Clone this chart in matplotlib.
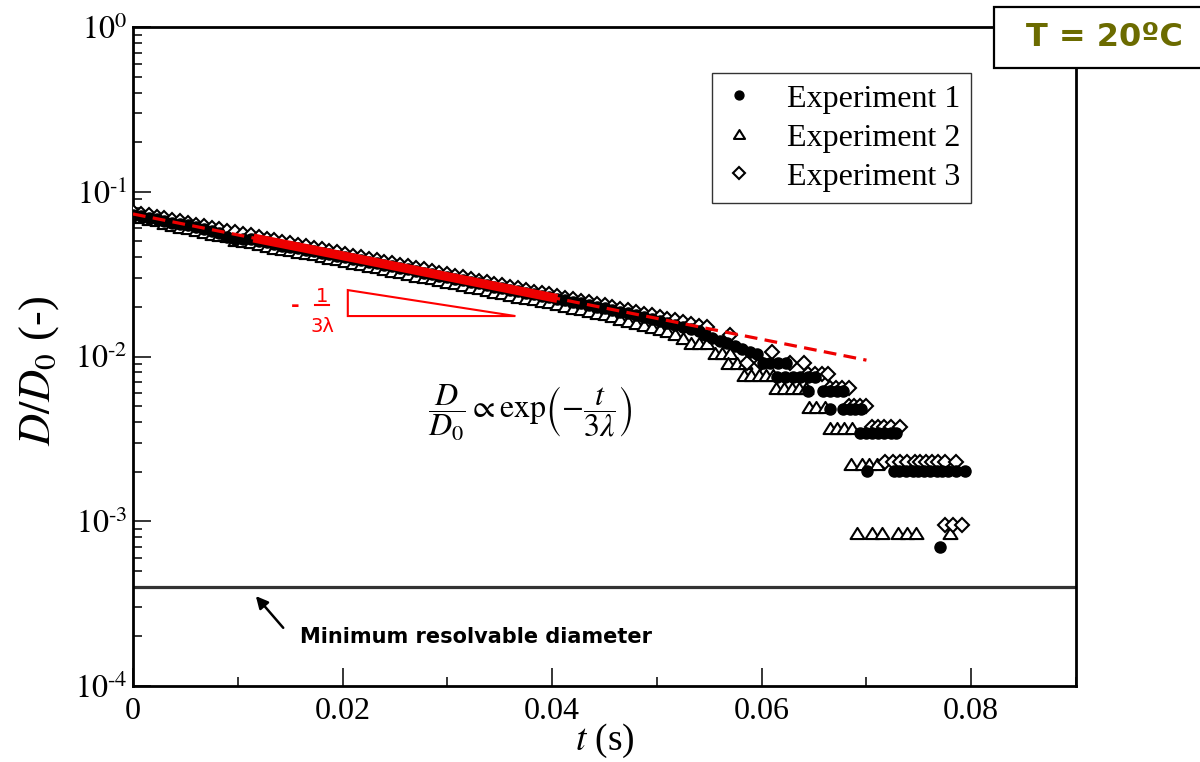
import numpy as np
import matplotlib
matplotlib.use('Agg')
import matplotlib.pyplot as plt
from matplotlib.ticker import FixedLocator, MultipleLocator, NullFormatter, FixedFormatter
from matplotlib.path import Path
from matplotlib.patches import Rectangle, Polygon

plt.rcParams['font.family'] = ['Liberation Serif', 'DejaVu Serif']
plt.rcParams['mathtext.fontset'] = 'stix'

# ---------------- data ----------------
dt = 0.00075  # frame interval (s)

exp1_early = [0.0725, 0.0712, 0.0690, 0.0680, 0.0665,
              0.0650, 0.0635, 0.0625, 0.0610, 0.0595,
              0.0580, 0.0560, 0.0530, 0.0515, 0.0520,
              0.0515, 0.0505, 0.0495, 0.0485, 0.0470,
              0.0465, 0.0455, 0.0445, 0.0435, 0.0425,
              0.0418, 0.0410, 0.0400, 0.0392, 0.0383,
              0.0375, 0.0368, 0.0360, 0.0352, 0.0345,
              0.0338, 0.0330, 0.0323, 0.0316, 0.0310,
              0.0302, 0.0296, 0.0290, 0.0283, 0.0278,
              0.0272, 0.0266, 0.0260, 0.0255, 0.0250,
              0.0244, 0.0238, 0.0234, 0.0229, 0.0224,
              0.0219, 0.0215, 0.0210, 0.0206, 0.0201,
              0.0196, 0.0192, 0.0187, 0.0183, 0.0178,
              0.0173, 0.0168, 0.0164, 0.0159, 0.0155,
              0.0150, 0.0146, 0.0142]
exp1_late_t = [0.0546, 0.0553, 0.0560, 0.0567, 0.0575, 0.0581, 0.0589, 0.0596,
               0.0601, 0.0608, 0.0616, 0.0623,
               0.0615, 0.0622, 0.0630, 0.0637, 0.0644, 0.0651,
               0.0644, 0.0659, 0.0665, 0.0672, 0.0678,
               0.0665, 0.0678, 0.0684, 0.0689, 0.0695,
               0.0694, 0.0700, 0.0705, 0.0711, 0.0717, 0.0723, 0.0728,
               0.0701, 0.0726, 0.0731, 0.0738, 0.0744, 0.0749, 0.0755, 0.0761,
               0.0767, 0.0772, 0.0778, 0.0785, 0.0794,
               0.0770]
exp1_late_y = [0.01351, 0.01295, 0.01242, 0.01208, 0.01158, 0.01110, 0.01064, 0.01035,
               0.00913, 0.00913, 0.00913, 0.00913,
               0.00752, 0.00752, 0.00752, 0.00752, 0.00752, 0.00752,
               0.00618, 0.00618, 0.00618, 0.00618, 0.00618,
               0.00480, 0.00480, 0.00480, 0.00480, 0.00480,
               0.00344, 0.00344, 0.00344, 0.00344, 0.00344, 0.00344, 0.00344,
               0.00202, 0.00202, 0.00202, 0.00202, 0.00202, 0.00202, 0.00202, 0.00202,
               0.00202, 0.00202, 0.00202, 0.00202, 0.00202,
               0.000698]

exp2_early = [0.0710, 0.0700, 0.0680, 0.0670, 0.0650,
              0.0625, 0.0610, 0.0600, 0.0585, 0.0570,
              0.0555, 0.0545, 0.0540, 0.0510, 0.0500,
              0.0495, 0.0480, 0.0470, 0.0455, 0.0450,
              0.0440, 0.0430, 0.0425, 0.0418, 0.0405,
              0.0395, 0.0388, 0.0380, 0.0370, 0.0362,
              0.0355, 0.0348, 0.0340, 0.0332, 0.0325,
              0.0318, 0.0310, 0.0305, 0.0298, 0.0290,
              0.0284, 0.0278, 0.0272, 0.0265, 0.0260,
              0.0253, 0.0248, 0.0243, 0.0237, 0.0231,
              0.0226, 0.0222, 0.0218, 0.0213, 0.0208,
              0.0203, 0.0198, 0.0193, 0.0188, 0.0184,
              0.0180, 0.0175, 0.0170, 0.0165, 0.0160,
              0.0155, 0.0150, 0.0146, 0.0142, 0.0136,
              0.0130]
exp2_late_t = [0.0533, 0.0540, 0.0548,
               0.0555, 0.0562, 0.0570,
               0.0568, 0.0576, 0.0584,
               0.0583, 0.0590, 0.0597, 0.0604, 0.0611,
               0.0614, 0.0621, 0.0629, 0.0636, 0.0642,
               0.0645, 0.0652, 0.0660,
               0.0665, 0.0672, 0.0679, 0.0686,
               0.0685, 0.0696, 0.0702, 0.0710,
               0.0691, 0.0705, 0.0715, 0.0730, 0.0739, 0.0747, 0.0780]
exp2_late_y = [0.01208, 0.01208, 0.01208,
               0.01050, 0.01050, 0.01050,
               0.00913, 0.00913, 0.00913,
               0.00773, 0.00773, 0.00773, 0.00773, 0.00773,
               0.00644, 0.00644, 0.00644, 0.00644, 0.00644,
               0.00493, 0.00493, 0.00493,
               0.00368, 0.00368, 0.00368, 0.00368,
               0.00222, 0.00222, 0.00222, 0.00222,
               0.00085, 0.00085, 0.00085, 0.00085, 0.00085, 0.00085, 0.00085]

exp3_early = [0.0750, 0.0735, 0.0718, 0.0700, 0.0690,
              0.0675, 0.0660, 0.0645, 0.0632, 0.0620,
              0.0605, 0.0592, 0.0580, 0.0568, 0.0555,
              0.0545, 0.0532, 0.0520, 0.0510, 0.0498,
              0.0487, 0.0478, 0.0466, 0.0458, 0.0447,
              0.0437, 0.0428, 0.0420, 0.0410, 0.0402,
              0.0393, 0.0384, 0.0376, 0.0367, 0.0360,
              0.0352, 0.0345, 0.0338, 0.0330, 0.0323,
              0.0316, 0.0309, 0.0302, 0.0295, 0.0289,
              0.0283, 0.0277, 0.0271, 0.0265, 0.0259,
              0.0254, 0.0248, 0.0243, 0.0238, 0.0233,
              0.0228, 0.0223, 0.0218, 0.0213, 0.0208,
              0.0204, 0.0199, 0.0195, 0.0191, 0.0186,
              0.0182, 0.0178, 0.0174, 0.0170, 0.0166,
              0.0162, 0.0158, 0.0154, 0.0150]
exp3_late_t = [0.0570, 0.0586, 0.0599, 0.0610, 0.0627, 0.0640,
               0.0644, 0.0651, 0.0658, 0.0663,
               0.0665, 0.0671, 0.0677, 0.0683,
               0.0683, 0.0688, 0.0694, 0.0700,
               0.0705, 0.0711, 0.0717, 0.0723, 0.0732,
               0.0718, 0.0725, 0.0732, 0.0739, 0.0746, 0.0751, 0.0757, 0.0763,
               0.0768, 0.0775, 0.0785,
               0.0775, 0.0783, 0.0791]
exp3_late_y = [0.01350, 0.00913, 0.00913, 0.01064, 0.00913, 0.00913,
               0.00783, 0.00783, 0.00783, 0.00783,
               0.00644, 0.00644, 0.00644, 0.00644,
               0.00500, 0.00500, 0.00500, 0.00500,
               0.00373, 0.00373, 0.00373, 0.00373, 0.00373,
               0.00229, 0.00229, 0.00229, 0.00229, 0.00229, 0.00229, 0.00229, 0.00229,
               0.00229, 0.00229, 0.00229,
               0.00095, 0.00095, 0.00095]

fit_t = [0.0, 0.070]
fit_y = [0.0733, 0.0095]
fit_seg_t = [0.0115, 0.0405]
fit_seg_y = [0.0524, 0.0225]
min_diameter = 4e-4

slope_tri_t = [0.0205, 0.0205, 0.0365]
slope_tri_y = [0.0253, 0.0176, 0.0176]

x_ticks = [0, 0.02, 0.04, 0.06, 0.08]
x_ticklabels = ['0', '0.02', '0.04', '0.06', '0.08']
y_ticks = [1e-4, 1e-3, 1e-2, 1e-1, 1e0]
y_ticklabels = [r'$10^{\text{-}4}$', r'$10^{\text{-}3}$', r'$10^{\text{-}2}$',
                r'$10^{\text{-}1}$', r'$10^{0}$']

# ---------------- figure ----------------
fig = plt.figure(figsize=(12, 7.62), dpi=100)
ax = fig.add_axes([133/1200, 76/762, 943/1200, 659/762])

t1 = np.concatenate([dt * np.arange(len(exp1_early)), exp1_late_t])
y1 = np.concatenate([exp1_early, exp1_late_y])
t2 = np.concatenate([dt * np.arange(len(exp2_early)), exp2_late_t])
y2 = np.concatenate([exp2_early, exp2_late_y])
t3 = np.concatenate([dt * np.arange(len(exp3_early)), exp3_late_t])
y3 = np.concatenate([exp3_early, exp3_late_y])

tri = Path([(0, 0.8), (-1, -0.8), (1, -0.8), (0, 0.8)],
           [Path.MOVETO, Path.LINETO, Path.LINETO, Path.CLOSEPOLY])

h2, = ax.plot(t2, y2, marker=tri, ms=10, mfc='white', mec='black', mew=1.5, ls='none',
              label='Experiment 2', zorder=3)
h3, = ax.plot(t3, y3, marker='D', ms=7.5, mfc='white', mec='black', mew=1.5, ls='none',
              label='Experiment 3', zorder=4)
h1, = ax.plot(t1, y1, 'o', ms=8, color='black', ls='none', label='Experiment 1', zorder=5)

ax.plot(fit_t, fit_y, color='#ee0000', lw=2.3, dashes=(4, 2.3), zorder=6)
ax.plot(fit_seg_t, fit_seg_y, color='#ee0000', lw=6.5, solid_capstyle='butt', zorder=6)
ax.axhline(min_diameter, color='#333333', lw=2.3, zorder=2)

ax.add_patch(Polygon(list(zip(slope_tri_t, slope_tri_y)), closed=True, fill=False,
                     edgecolor='red', lw=1.5, zorder=6))
ax.text(0.01547, 0.0203, '-', color='red', fontsize=15, family='DejaVu Sans',
        fontweight='bold', ha='center', va='center')
ax.text(0.01804, 0.0232, '1', color='red', fontsize=14, family='DejaVu Sans',
        ha='center', va='center')
ax.plot([0.01737, 0.01871], [0.02054, 0.02054], color='red', lw=1.5)
ax.text(0.01804, 0.0153, '3λ', color='red', fontsize=14, family='DejaVu Sans',
        ha='center', va='center')

ax.text(0.0379, 0.00454, r'$\dfrac{D}{D_0} \propto \mathrm{exp}\left(-\dfrac{t}{3\lambda}\right)$',
        fontsize=23, ha='center', va='center')

ax.annotate('', xy=(0.01155, 3.62e-4), xytext=(0.01451, 2.19e-4),
            arrowprops=dict(arrowstyle='-|>', color='black', lw=1.8, mutation_scale=18))
ax.text(0.01594, 1.98e-4, 'Minimum resolvable diameter', family='DejaVu Sans',
        fontweight='bold', fontsize=15, ha='left', va='center')

ax.set_yscale('log')
ax.set_xlim(0, 0.09)
ax.set_ylim(1e-4, 1)
ax.xaxis.set_major_locator(FixedLocator(x_ticks))
ax.xaxis.set_major_formatter(FixedFormatter(x_ticklabels))
ax.xaxis.set_minor_locator(MultipleLocator(0.01))
ax.yaxis.set_major_locator(FixedLocator(y_ticks))
ax.yaxis.set_major_formatter(FixedFormatter(y_ticklabels))
minor_y = [m * 10.0**e for e in range(-4, 0) for m in range(2, 10)]
ax.yaxis.set_minor_locator(FixedLocator(minor_y))
ax.yaxis.set_minor_formatter(NullFormatter())
ax.tick_params(which='major', direction='in', length=13, width=1.1, labelsize=23,
               top=False, right=False)
ax.tick_params(axis='x', which='major', pad=8)
ax.tick_params(axis='y', which='major', pad=4)
ax.tick_params(which='minor', direction='in', length=6.5, width=1.1, top=False, right=False)
for s in ax.spines.values():
    s.set_linewidth(2)

ax.set_xlabel(r'$t$ (s)', fontsize=27, labelpad=-3)
ax.set_ylabel(r'$D/D_0$ (-)', fontsize=32)
ax.yaxis.set_label_coords(-0.0764, 0.478)

leg = ax.legend(handles=[h1, h2, h3], loc='upper right', bbox_to_anchor=(0.889, 0.930),
                fontsize=23, frameon=True, fancybox=False, edgecolor='black',
                markerscale=0.8, handlelength=1.0, handletextpad=1.0, labelspacing=0.3,
                borderpad=0.35, borderaxespad=0)
leg.get_frame().set_linewidth(1.0)

fig.patches.append(Rectangle((994/1200, 1 - 68/762), 0.2, 61/762, transform=fig.transFigure,
                             facecolor='white', edgecolor='black', lw=1.6, zorder=10,
                             clip_on=False))
fig.text(1104/1200, 1 - 37/762, 'T = 20ºC', family='DejaVu Sans', fontweight='bold',
         fontsize=23, color='#6b6b00', ha='center', va='center', zorder=11)

fig.savefig('out.png', dpi=100)
